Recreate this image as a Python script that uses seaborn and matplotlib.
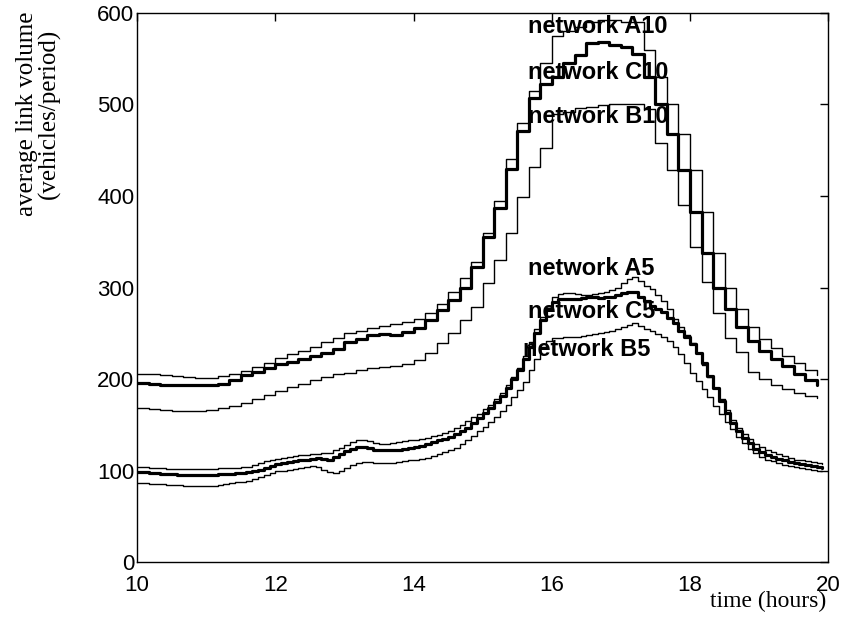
import numpy as np
import pandas as pd
import matplotlib
matplotlib.use("Agg")
import matplotlib.pyplot as plt
import seaborn as sns

# ---- data: 10-minute periods (networks *10), 10:00 .. 19:50 ----
hours10 = [10 + i / 6 for i in range(60)]
net_A10 = [206, 205, 204, 203, 202, 201,
           201, 203, 206, 209, 213, 218,
           223, 227, 231, 235, 240, 245,
           250, 253, 256, 258, 260, 262,
           266, 272, 282, 295, 310, 328,
           360, 395, 440, 480, 515, 545,
           575, 580, 585, 590, 592, 592,
           590, 590, 560, 530, 500, 468,
           428, 382, 338, 300, 276, 257,
           244, 234, 225, 217, 210, 204]
net_C10 = [196, 195, 194, 193, 193, 193,
           193, 195, 199, 204, 208, 212,
           216, 219, 222, 225, 229, 233,
           240, 244, 248, 249, 248, 251,
           256, 264, 275, 286, 300, 322,
           355, 387, 430, 471, 507, 522,
           530, 545, 554, 567, 568, 565,
           563, 555, 530, 500, 468, 428,
           382, 338, 300, 276, 257, 242,
           231, 222, 214, 206, 199, 193]
net_B10 = [168, 167, 166, 165, 165, 165,
           166, 168, 171, 174, 178, 183,
           187, 191, 195, 199, 202, 205,
           207, 210, 212, 213, 214, 216,
           221, 228, 239, 250, 264, 279,
           305, 330, 360, 399, 432, 452,
           490, 492, 496, 497, 499, 501,
           501, 500, 495, 458, 428, 390,
           344, 306, 272, 245, 230, 208,
           200, 194, 189, 185, 182, 179]

# ---- data: 5-minute periods (networks *5), 10:00 .. 19:55 ----
hours5 = [10 + j / 12 for j in range(120)]
net_A5 = [104, 104, 103, 103, 103, 102, 102, 102, 102, 102, 102, 102,
          102, 102, 103, 103, 103, 103, 104, 104, 106, 108, 110, 112,
          113, 114, 115, 116, 117, 117, 118, 118, 119, 119, 122, 125,
          128, 131, 133, 133, 132, 130, 129, 129, 130, 131, 132, 133,
          133, 134, 136, 138, 139, 141, 143, 146, 150, 154, 158, 162,
          167, 172, 178, 185, 193, 202, 212, 225, 240, 255, 268, 280,
          290, 293, 294, 294, 293, 292, 292, 293, 294, 295, 297, 300,
          305, 309, 311, 307, 302, 298, 292, 285, 276, 266, 257, 248,
          239, 228, 215, 202, 190, 178, 166, 155, 147, 140, 134, 129,
          126, 123, 120, 118, 116, 114, 112, 111, 110, 109, 108, 107]
net_C5 = [98, 98, 97, 97, 96, 96, 96, 95, 95, 95, 95, 95,
          95, 95, 96, 96, 96, 97, 97, 98, 99, 101, 103, 105,
          107, 108, 109, 110, 111, 112, 113, 114, 113, 112, 115, 118,
          121, 124, 126, 126, 125, 123, 122, 122, 122, 123, 124, 125,
          126, 127, 129, 131, 133, 135, 137, 140, 143, 147, 152, 157,
          163, 168, 175, 182, 190, 200, 210, 222, 235, 250, 265, 277,
          284, 287, 288, 288, 288, 289, 290, 290, 289, 290, 290, 292,
          294, 295, 295, 290, 285, 280, 277, 273, 267, 261, 253, 246,
          238, 228, 217, 203, 190, 176, 163, 152, 143, 136, 130, 124,
          120, 117, 115, 113, 111, 109, 108, 107, 106, 105, 104, 103]
net_B5 = [86, 86, 85, 85, 85, 84, 84, 84, 83, 83, 83, 83,
          83, 83, 84, 85, 86, 87, 88, 89, 91, 93, 95, 97,
          99, 100, 101, 102, 103, 104, 105, 104, 101, 98, 97, 100,
          103, 106, 108, 109, 109, 108, 108, 108, 108, 109, 110, 111,
          112, 113, 114, 116, 118, 120, 122, 125, 129, 133, 138, 143,
          148, 153, 159, 165, 172, 180, 188, 197, 210, 222, 235, 242,
          245, 245, 246, 246, 246, 247, 248, 249, 250, 251, 252, 255,
          257, 259, 261, 258, 255, 252, 249, 246, 242, 235, 227, 217,
          207, 198, 189, 180, 171, 162, 153, 145, 137, 130, 124, 119,
          115, 112, 110, 108, 106, 105, 104, 103, 102, 101, 100, 100]

labels = ["network A10", "network C10", "network B10",
          "network A5", "network C5", "network B5"]
label_x = [15.65, 15.65, 15.65, 15.65, 15.65, 15.58]
label_y = [585, 535, 487, 321, 274, 232]
xticks = [10, 12, 14, 16, 18, 20]
yticks = [0, 100, 200, 300, 400, 500, 600]

sns.set_style("white")
plt.rcParams["font.family"] = ["Liberation Sans", "DejaVu Sans"]
plt.rcParams["text.color"] = "black"

fig = plt.figure(figsize=(8.46, 6.17), dpi=100)
ax = fig.add_axes([0.162, 0.089, 0.817, 0.890])

thin, thick = 1.0, 2.3
series = [(hours10, net_A10, thin), (hours10, net_C10, thick), (hours10, net_B10, thin),
          (hours5, net_A5, thin), (hours5, net_C5, thick), (hours5, net_B5, thin)]
for xs, ys, lw in series:
    sns.lineplot(x=xs, y=ys, ax=ax, color="black", lw=lw,
                 drawstyle="steps-post", estimator=None, sort=False)

for lab, lx, ly in zip(labels, label_x, label_y):
    ax.text(lx, ly, lab, fontsize=17, fontweight="bold", ha="left", va="center",
            color="black", family=["Liberation Sans", "DejaVu Sans"])

ax.set_xlim(10, 20)
ax.set_ylim(0, 600)
ax.set_xticks(xticks)
ax.set_yticks(yticks)
ax.tick_params(direction="in", length=6, width=1, top=True, right=True,
               labelsize=16, colors="black", labelcolor="black")
ax.tick_params(axis="x", pad=9)
ax.tick_params(axis="y", pad=2)
for s in ax.spines.values():
    s.set_visible(True)
    s.set_color("black")
    s.set_linewidth(1.0)
ax.set_xlabel("")
ax.set_ylabel("")

fig.text(0.045, 0.815, "average link volume\n(vehicles/period)", rotation=90,
         ha="center", va="center", fontsize=18, linespacing=1.0, color="black",
         family=["Liberation Serif", "DejaVu Serif"])
fig.text(0.977, 0.025, "time (hours)", ha="right", va="center", fontsize=17,
         color="black", family=["Liberation Serif", "DejaVu Serif"])

fig.savefig("out.png", dpi=100, facecolor="white")
